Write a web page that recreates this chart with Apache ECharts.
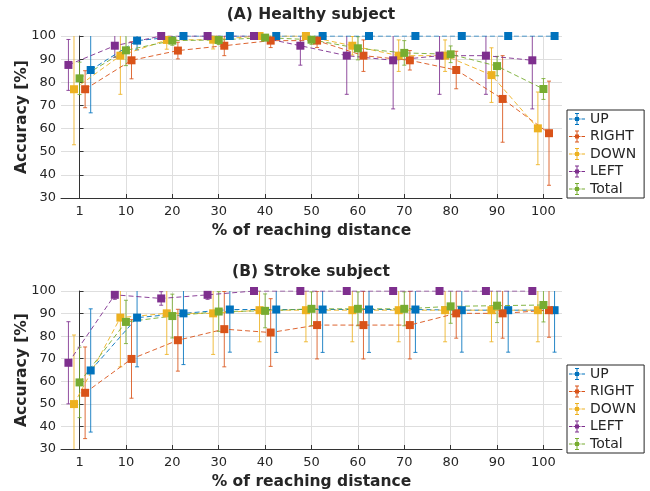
<!DOCTYPE html>
<html>
<head>
<meta charset="utf-8">
<script src="https://cdn.jsdelivr.net/npm/echarts@6/dist/echarts.min.js"></script>
<style>html,body{margin:0;padding:0;background:#fff;}#c{width:650px;height:491px;}</style>
</head>
<body>
<div id="c"></div>
<script>
// ---- data ----
const xPositions = [0, 10, 20, 30, 40, 50, 60, 70, 80, 90, 100];
const xTickLabels = ['1', '10', '20', '30', '40', '50', '60', '70', '80', '90', '100'];
const seriesNames = ['UP', 'RIGHT', 'DOWN', 'LEFT', 'Total'];
const titles = ['(A) Healthy subject', '(B) Stroke subject'];

// Healthy subject: means and error half-widths
const healthyUP        = [85.3, 98.0, 100, 100, 100, 100, 100, 100, 100, 100, 100];
const healthyUPErr     = [18.5, 4.0, 0, 0, 0, 0, 0, 0, 0, 0, 0];
const healthyRIGHT     = [77.0, 89.5, 93.7, 95.8, 98.0, 98.0, 91.5, 89.5, 85.3, 72.8, 58.0];
const healthyRIGHTErr  = [8.0, 8.0, 3.6, 4.3, 3.0, 3.0, 6.8, 4.2, 8.1, 18.7, 22.5];
const healthyDOWN      = [77.0, 91.5, 98.3, 98.4, 100, 100, 95.8, 91.5, 91.5, 83.1, 60.1];
const healthyDOWNErr   = [24.0, 16.7, 4.0, 4.0, 0.5, 1.0, 4.0, 6.8, 6.8, 11.8, 15.7];
const healthyLEFT      = [87.5, 95.8, 100, 100, 100, 95.8, 91.5, 89.5, 91.5, 91.5, 89.5];
const healthyLEFTErr   = [11.0, 5.0, 0, 0, 0, 8.4, 16.7, 21.0, 16.7, 16.7, 21.0];
const healthyTotal     = [81.7, 93.8, 98.0, 98.3, 99.3, 98.4, 94.7, 92.7, 92.1, 87.0, 77.1];
const healthyTotalErr  = [7.0, 6.6, 2.0, 2.0, 1.0, 2.0, 5.0, 5.3, 3.6, 4.2, 4.5];

// Stroke subject
const strokeUP         = [64.8, 88.2, 90.1, 91.8, 91.8, 91.8, 91.8, 91.8, 91.5, 91.5, 91.5];
const strokeUPErr      = [27.3, 21.8, 22.7, 18.9, 19.0, 19.0, 19.0, 19.0, 18.6, 18.6, 18.6];
const strokeRIGHT      = [54.9, 69.9, 78.2, 83.1, 81.6, 84.9, 84.9, 84.9, 90.1, 90.1, 91.5];
const strokeRIGHTErr   = [20.3, 17.4, 13.7, 16.7, 15.0, 15.0, 15.0, 15.0, 11.0, 11.0, 12.0];
const strokeDOWN       = [49.9, 88.2, 90.1, 90.1, 91.5, 91.5, 91.5, 91.5, 91.5, 91.5, 91.5];
const strokeDOWNErr    = [30.6, 21.8, 18.2, 18.2, 14.0, 14.0, 14.0, 14.0, 14.0, 14.0, 14.0];
const strokeLEFT       = [68.2, 98.3, 96.7, 98.3, 100, 100, 100, 100, 100, 100, 100];
const strokeLEFTErr    = [18.2, 2.0, 3.0, 2.0, 0, 0, 0, 0, 0, 0, 0];
const strokeTotal      = [59.5, 86.3, 88.9, 90.9, 91.2, 92.1, 92.1, 92.1, 93.2, 93.5, 93.8];
const strokeTotalErr   = [15.6, 9.6, 9.7, 8.8, 7.5, 7.5, 7.5, 7.5, 7.5, 7.5, 7.5];

// ---- style ----
const colors = {UP: '#0072BD', RIGHT: '#D95319', DOWN: '#EDB120', LEFT: '#7E2F8E', Total: '#77AC30'};
const offsets = {UP: 2.4, RIGHT: 1.2, DOWN: -1.2, LEFT: -2.4, Total: 0};
const FONT = 'DejaVu Sans';
const TXT = '#262626';

const panels = [
  {means: {UP: healthyUP, RIGHT: healthyRIGHT, DOWN: healthyDOWN, LEFT: healthyLEFT, Total: healthyTotal},
   errs:  {UP: healthyUPErr, RIGHT: healthyRIGHTErr, DOWN: healthyDOWNErr, LEFT: healthyLEFTErr, Total: healthyTotalErr}},
  {means: {UP: strokeUP, RIGHT: strokeRIGHT, DOWN: strokeDOWN, LEFT: strokeLEFT, Total: strokeTotal},
   errs:  {UP: strokeUPErr, RIGHT: strokeRIGHTErr, DOWN: strokeDOWNErr, LEFT: strokeLEFTErr, Total: strokeTotalErr}}
];

const gridTops = [36, 291];
const titleTops = [7, 264];
const gridH = 162;

const legendIcon = 'path://M0,6.5h3.5v1h-3.5z M4.5,6.5h2v1h-2z M9.5,6.5h2v1h-2z M12.5,6.5h3.5v1h-3.5z M7.5,1h1v12h-1z M6,1h4v1h-4z M6,12h4v1h-4z M6,5h4v4h-4z';

const grids = [], xAxes = [], yAxes = [], series = [], legends = [], titleOpts = [];

gridTops.forEach((top, gi) => {
  grids.push({left: 61, right: 88, top: top, height: gridH});
  xAxes.push({
    type: 'value', gridIndex: gi, min: -4, max: 104,
    name: '% of reaching distance', nameLocation: 'middle', nameGap: 25, nameMoveOverlap: false,
    nameTextStyle: {fontFamily: FONT, fontSize: 15.5, fontWeight: 'bold', color: TXT},
    axisLine: {show: true, onZero: false, lineStyle: {color: '#333', width: 1}},
    axisTick: {show: true, inside: true, length: 4, customValues: xPositions, lineStyle: {color: '#333'}},
    axisLabel: {customValues: xPositions, margin: 7, fontFamily: FONT, fontSize: 13, color: TXT,
      formatter: v => xTickLabels[xPositions.indexOf(v)]},
    splitLine: {show: true, lineStyle: {color: '#dedede', width: 1}}
  });
  yAxes.push({
    type: 'value', gridIndex: gi, min: 30, max: 100, interval: 10,
    name: 'Accuracy [%]', nameLocation: 'middle', nameGap: 31, nameMoveOverlap: false,
    nameTextStyle: {fontFamily: FONT, fontSize: 15.5, fontWeight: 'bold', color: TXT},
    axisLine: {show: true, lineStyle: {color: '#333', width: 1}},
    axisTick: {show: true, inside: true, length: 4, lineStyle: {color: '#333'}},
    axisLabel: {margin: 5, fontFamily: FONT, fontSize: 13, color: TXT},
    splitLine: {show: true, lineStyle: {color: '#dedede', width: 1}}
  });
  titleOpts.push({
    text: titles[gi], left: 311, top: titleTops[gi], textAlign: 'center', padding: 0,
    textStyle: {fontFamily: FONT, fontSize: 15.5, fontWeight: 'bold', color: TXT}
  });
  legends.push({
    orient: 'vertical', left: 567, top: top + 74,
    data: seriesNames.map(n => ({name: n, icon: legendIcon})),
    itemWidth: 16, itemHeight: 14, itemGap: 3.5,
    padding: [2, 8, 2, 2],
    borderColor: '#262626', borderWidth: 1, backgroundColor: '#fff', borderRadius: 0,
    textStyle: {fontFamily: FONT, fontSize: 14, color: TXT},
    selectedMode: false
  });

  const p = panels[gi];
  seriesNames.forEach(name => {
    const col = colors[name];
    const off = offsets[name];
    const m = p.means[name], e = p.errs[name];
    series.push({
      type: 'custom', name: name, xAxisIndex: gi, yAxisIndex: gi, clip: true, silent: true,
      itemStyle: {color: col},
      encode: {x: 0, y: 1},
      data: xPositions.map((x, i) => [x + off, m[i], e[i]]),
      renderItem: (params, api) => {
        const x = api.value(0), mv = api.value(1), ev = api.value(2);
        if (!(ev > 0)) return null;
        const t = api.coord([x, mv + ev]);
        const b = api.coord([x, mv - ev]);
        const st = {stroke: col, lineWidth: 1, opacity: 0.85};
        return {type: 'group', children: [
          {type: 'line', shape: {x1: t[0], y1: t[1], x2: b[0], y2: b[1]}, style: st},
          {type: 'line', shape: {x1: t[0] - 2, y1: t[1], x2: t[0] + 2, y2: t[1]}, style: st},
          {type: 'line', shape: {x1: b[0] - 2, y1: b[1], x2: b[0] + 2, y2: b[1]}, style: st}
        ]};
      }
    });
    series.push({
      type: 'line', name: name, xAxisIndex: gi, yAxisIndex: gi,
      data: xPositions.map((x, i) => [x + off, m[i]]),
      symbol: 'rect', symbolSize: 8, showAllSymbol: true,
      itemStyle: {color: col},
      lineStyle: {color: col, width: 1, type: [5, 3], opacity: 0.9},
      clip: true, animation: false, silent: true
    });
  });
});

const chart = echarts.init(document.getElementById('c'), null, {renderer: 'canvas'});
chart.setOption({
  animation: false,
  backgroundColor: '#fff',
  title: titleOpts,
  legend: legends,
  grid: grids,
  xAxis: xAxes,
  yAxis: yAxes,
  series: series
});
</script>
</body>
</html>
